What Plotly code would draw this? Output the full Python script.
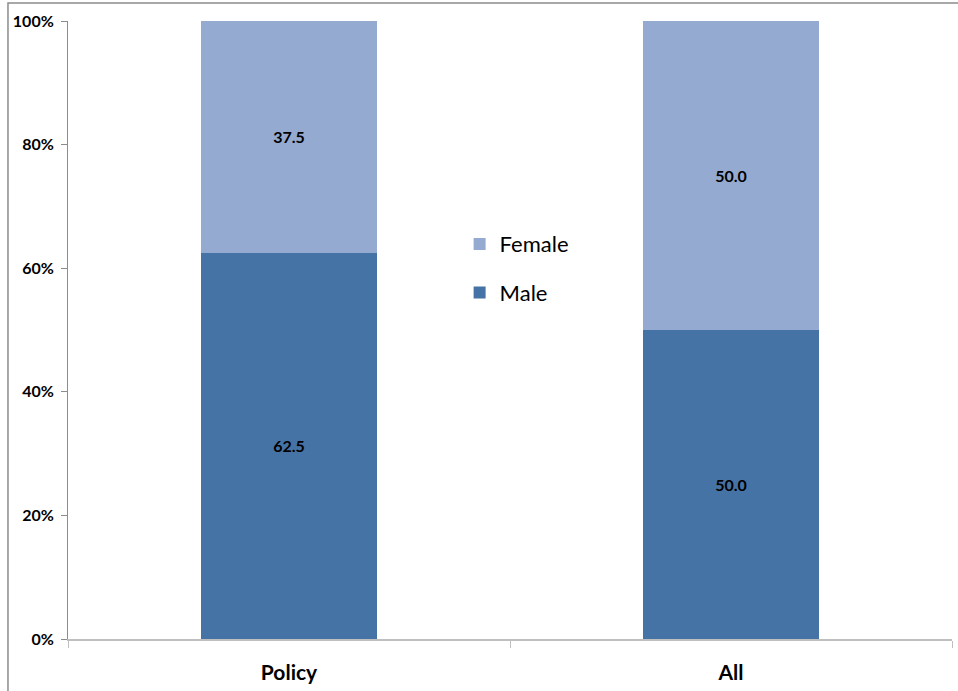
import plotly.graph_objects as go

categories = ["Policy", "All"]
male = [62.5, 50.0]
female = [37.5, 50.0]
y_ticks = [0, 20, 40, 60, 80, 100]
y_tick_labels = ["0%", "20%", "40%", "60%", "80%", "100%"]

MALE_COLOR = "#4673A6"
FEMALE_COLOR = "#95AAD0"
FONT = "Lato, 'Open Sans', Arial, sans-serif"

fig = go.Figure()
fig.add_trace(go.Bar(
    x=categories, y=male, name="Male", legendgroup="m", legendrank=2,
    marker=dict(color=MALE_COLOR, line=dict(width=0)),
    text=[f"{v:.1f}" for v in male], textposition="inside",
    insidetextanchor="middle",
    textfont=dict(color="black", size=16, family=FONT, weight="bold"),
))
fig.add_trace(go.Bar(
    x=categories, y=female, name="Female", legendgroup="f", legendrank=1,
    marker=dict(color=FEMALE_COLOR, line=dict(width=0)),
    text=[f"{v:.1f}" for v in female], textposition="inside",
    insidetextanchor="middle",
    textfont=dict(color="black", size=16, family=FONT, weight="bold"),
))

fig.update_layout(
    barmode="stack",
    bargap=0.6,
    width=958, height=691,
    margin=dict(l=68, r=6, t=21, b=52),
    paper_bgcolor="white",
    plot_bgcolor="white",
    font=dict(family=FONT, color="black"),
    legend=dict(
        x=0.443, y=0.673, xanchor="left", yanchor="top",
        traceorder="grouped",
        font=dict(size=22, family=FONT),
        itemwidth=30,
        tracegroupgap=17,
        bgcolor="rgba(0,0,0,0)",
    ),
    uniformtext=dict(minsize=16, mode="show"),
    xaxis=dict(
        showline=True, linecolor="#BFBFBF", linewidth=1.5,
        ticks="outside", tickson="boundaries", ticklen=7, tickcolor="#BFBFBF",
        tickfont=dict(size=21, family=FONT, weight="bold"),
        showgrid=False,
        ticklabelstandoff=14,
    ),
    yaxis=dict(
        range=[0, 100],
        tickvals=y_ticks, ticktext=y_tick_labels,
        showline=True, linecolor="#8C8C8C", linewidth=1,
        ticks="outside", ticklen=6, tickcolor="#8C8C8C",
        tickfont=dict(size=16, family=FONT, weight="bold"),
        showgrid=False, zeroline=False,
        ticklabelstandoff=4,
    ),
    shapes=[dict(
        type="rect", xref="paper", yref="paper",
        x0=-0.0679, x1=1.2, y0=-0.5, y1=1.029,
        line=dict(color="#8C8C8C", width=1.5),
        fillcolor="rgba(0,0,0,0)", layer="above",
    )],
)

fig.write_html("out.html")
